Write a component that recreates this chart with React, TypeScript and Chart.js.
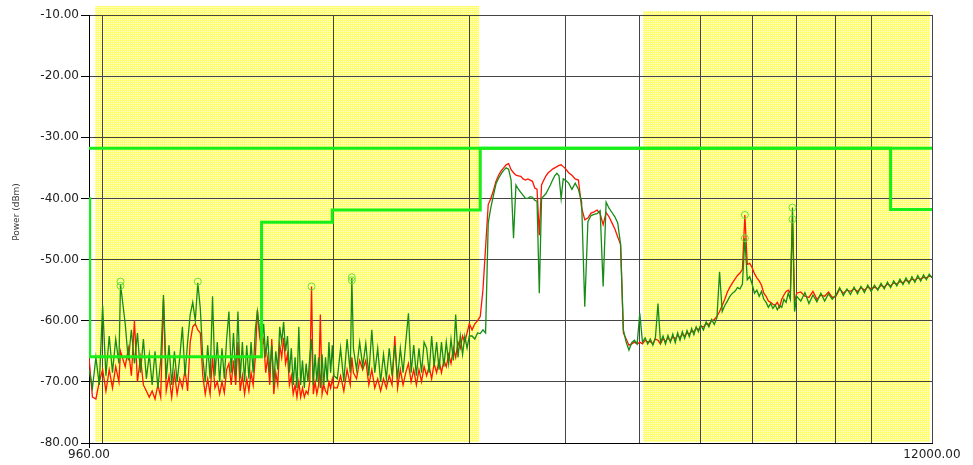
import React, { useEffect, useRef } from "react";
import { Chart, registerables } from "chart.js";

Chart.register(...registerables);

// ---------- data (frequency in MHz, power in dBm) ----------
const freqA = [
  960, 970, 980, 990, 1000, 1010, 1020, 1030, 1040, 1050,
  1055, 1070, 1080, 1090, 1100, 1110, 1120, 1130, 1140, 1150,
  1160, 1170, 1180, 1190, 1200, 1210, 1220, 1230, 1240, 1250,
  1260, 1270, 1280, 1290, 1300, 1310, 1320, 1330, 1340, 1350,
  1360, 1370, 1380, 1390, 1400, 1410, 1420, 1430, 1440, 1450,
  1460, 1470, 1480, 1490, 1500, 1510, 1520, 1530, 1540, 1550,
  1560, 1570, 1580, 1590, 1600, 1610, 1620, 1630, 1640, 1650,
  1660, 1670, 1680, 1690, 1700, 1710, 1720, 1730, 1740, 1750,
  1760, 1770, 1780, 1790, 1800, 1810, 1820, 1830, 1840, 1850,
  1860, 1870, 1880, 1890, 1900, 1910, 1920, 1930, 1940, 1950,
  1960, 1970, 1980, 1990, 2000,
];
const greenA = [
  -68, -71, -66, -70.5, -57.5, -69, -62.5, -68.5, -63, -67,
  -54, -60.5, -66.5, -61.5, -67, -62, -68.5, -63, -69.5, -65.5,
  -70.5, -65, -71, -66.5, -55.8, -69.5, -64, -70.5, -65, -70,
  -66, -61, -69, -63.5, -59, -57, -60, -53.8, -58, -66,
  -70, -64, -69.5, -56, -69, -63.5, -70, -64.5, -69.5, -63,
  -58.5, -68.5, -62, -69, -58.5, -69.5, -63.5, -70, -64, -69.5,
  -63.5, -68.5, -61.5, -58.5, -61.5, -64, -60.5, -66, -62.5, -68.5,
  -64, -70.5, -65, -68, -61, -63.5, -60.2, -65, -62.5, -68.5,
  -64.5, -70.5, -66, -71, -61, -70.5, -66.5, -71, -67, -70,
  -66, -63, -70.5, -65.5, -70, -66, -71, -65.5, -70.5, -66,
  -70, -63.5, -68.5, -64, -69,
];
const redA = [
  -66, -72.5, -72.8, -70, -68, -71.5, -68, -71, -67.5, -70,
  -65, -67.5, -64.5, -69, -60, -70, -66, -70.5, -71.5, -72.5,
  -71.5, -72.8, -70.5, -72.5, -56.5, -71.5, -69, -72.5, -68.5, -72,
  -69.5, -71, -68, -71.5, -63.5, -61, -60.5, -61.5, -62, -69,
  -72, -69.5, -72, -66, -71, -70, -72, -70, -71.8, -68,
  -67, -70.5, -66.5, -70.5, -63.5, -71.5, -69, -72, -69.5, -71.5,
  -68.5, -70.5, -66, -58.3, -62.5, -64.5, -63, -68.5, -66, -70.5,
  -63, -72, -68.5, -70.5, -64, -66, -62.8, -67, -65.5, -70.5,
  -69, -72, -70.5, -72.5, -70, -72.5, -71, -72.5, -71.5, -72,
  -70, -54.4, -72, -70, -72, -70.5, -59, -72, -70.5, -71.5,
  -72, -70, -71, -69.5, -71,
];

const freqB = [
  2020, 2040, 2060, 2080, 2100, 2110, 2120, 2140, 2160, 2180,
  2200, 2220, 2240, 2260, 2280, 2300, 2320, 2340, 2360, 2380,
  2400, 2420, 2440, 2460, 2480, 2500, 2520, 2540, 2560, 2580,
  2600, 2620, 2640, 2660, 2680, 2700, 2720, 2740, 2760, 2780,
  2800, 2820, 2840, 2860, 2880, 2900, 2920, 2940, 2960, 2980,
  3000,
];
const greenB = [
  -69.5, -64.5, -70, -63, -68.5, -53, -64.5, -68, -63.5, -67.5,
  -63.7, -69, -61.5, -68.5, -64.5, -70, -65.5, -69.5, -64.5, -69,
  -64, -69.5, -64.5, -68.5, -63.5, -58.8, -68.5, -64, -69, -64.5,
  -68.5, -63.5, -64.5, -68.5, -62.5, -67.5, -63.5, -68, -63.5, -67.5,
  -63.5, -67, -63, -66.5, -59, -66, -62.5, -65.5, -62.5, -64.5,
  -62.5,
];
const redB = [
  -71, -69, -71.5, -68, -70.5, -66, -68.5, -69.5, -66.5, -68,
  -66.5, -70.5, -68, -71, -69.5, -71.5, -69.5, -71, -69, -70.5,
  -62.5, -71, -68, -70.5, -68.5, -67, -70, -68, -70.5, -68,
  -70, -67.5, -69, -67.5, -69.5, -67, -68.5, -66.5, -68.5, -66.5,
  -67.5, -65.5, -67, -64.5, -66, -63.5, -64.5, -62.5, -63.5, -62,
  -60.5,
];

const freqC = [
  3025, 3050, 3075, 3100, 3125, 3150, 3175, 3200, 3225, 3250,
  3275, 3300, 3325, 3350, 3375, 3400, 3425, 3450, 3475, 3500,
  3525, 3550, 3575, 3600, 3625, 3650, 3675, 3700, 3725, 3750,
  3775, 3800, 3825, 3850, 3875, 3900, 3925, 3950, 3975, 4000,
];
const greenC = [
  -62.5, -63, -62, -62.1, -61.5, -62, -44, -41.5, -39.5, -37.6,
  -36.7, -36, -35.4, -35, -35.2, -37, -46.5, -37.8, -38.5, -39,
  -39.5, -40, -40, -39.7, -39.8, -40.3, -40.5, -55.5, -40, -39.6,
  -39.2, -38.5, -37.8, -37, -36.3, -35.9, -36.3, -40, -36.8, -37,
];
const redC = [
  -61.5, -60.5, -60, -59.3, -55, -48, -41, -40, -38.7, -37.2,
  -36.2, -35.5, -35, -34.5, -34.3, -35.3, -35.8, -36.2, -36.3, -36.4,
  -36.8, -37, -36.8, -37, -37.2, -38.3, -38.5, -46, -37.8, -37,
  -36.3, -35.8, -35.5, -35.2, -35, -34.8, -34.6, -34.5, -34.8, -35.1,
];

const freqD = [
  4040, 4080, 4120, 4160, 4200, 4240, 4280, 4320, 4360, 4400,
  4440, 4480, 4520, 4560, 4600, 4640, 4680, 4720, 4760, 4800,
  4840, 4880, 4920, 4960, 5000, 5040, 5080, 5120, 5160, 5200,
  5240, 5280, 5320, 5360, 5400, 5440, 5480, 5520, 5560, 5600,
  5640, 5680, 5720, 5760, 5800, 5840, 5880, 5920, 5960, 6000,
];
const greenD = [
  -37.5, -38.5, -37.5, -38.5, -40.5, -57.7, -43.8, -42.8, -42.6, -42.5,
  -42, -54.4, -40.6, -41.6, -42.3, -43, -44, -47.5, -61.5, -63.5,
  -64.8, -63.6, -63.2, -63.8, -58.8, -63.5, -62.8, -63.8, -63, -64,
  -62.7, -57.2, -63.6, -62.5, -63.8, -62.4, -63.5, -62.2, -63.6, -62,
  -63.2, -61.8, -62.9, -61.6, -62.6, -61.3, -62.3, -61, -61.8, -60.7,
];
const redD = [
  -35.8, -36.2, -36.8, -37, -41.5, -43.5, -43.2, -42.4, -42.2, -41.9,
  -42.5, -44.3, -42.3, -43, -44, -45, -46.3, -47.5, -62, -63,
  -64, -63.8, -63.5, -63.8, -63.5, -63.8, -63.2, -63.5, -63.4, -63.8,
  -63, -63.2, -63.8, -62.9, -63.4, -62.8, -63.3, -62.6, -63, -62.4,
  -62.8, -62.2, -62.5, -62, -62.2, -61.7, -61.8, -61.2, -61.5, -60.9,
];

const freqE = [
  6050, 6100, 6150, 6200, 6250, 6300, 6350, 6400, 6450, 6500,
  6550, 6600, 6650, 6700, 6750, 6800, 6850, 6900, 6950, 7000,
  7050, 7100, 7150, 7200, 7250, 7300, 7350, 7400, 7450, 7500,
  7550, 7600, 7650, 7700, 7750, 7800, 7850, 7900, 7950, 8000,
];
const greenE = [
  -61.5, -60.2, -61, -59.8, -60.6, -59.5, -52, -58.5, -57.5, -56.8,
  -56, -55.5, -55.2, -54.6, -54.8, -54, -46.5, -53.3, -52.8, -54,
  -55.5, -55, -56, -55.2, -56.5, -57, -57.8, -57.2, -58, -57.4,
  -58.2, -57.5, -57.8, -56.5, -57, -55.5, -56.5, -41.5, -58.5, -56,
];
const redE = [
  -61, -60.5, -60.6, -60, -59.8, -59.3, -58.5, -57.5, -56.5, -55.3,
  -54.5, -53.8, -53.2, -52.6, -52.2, -51.6, -42.7, -50.8, -50.6, -51.3,
  -52.3, -53, -53.5, -54.2, -55.5, -56, -56.8, -57, -57.3, -57.5,
  -57, -57.8, -56.5, -55.8, -55.2, -55, -55.5, -43.4, -57, -55.5,
];

const freqF = [
  8100, 8200, 8300, 8400, 8500, 8600, 8700, 8800, 8900, 9000,
  9100, 9200, 9300, 9400, 9500, 9600, 9700, 9800, 9900, 10000,
  10100, 10200, 10300, 10400, 10500, 10600, 10700, 10800, 10900, 11000,
  11100, 11200, 11300, 11400, 11500, 11600, 11700, 11800, 11900, 12000,
];
const greenF = [
  -56.8, -55.4, -57.2, -55.8, -56.9, -55.5, -56.8, -55.6, -56.5, -55.8,
  -54.6, -55.9, -54.8, -55.7, -54.5, -55.6, -54.4, -55.4, -54.2, -55.2,
  -54.2, -55, -53.9, -54.8, -53.7, -54.6, -53.5, -54.3, -53.2, -54.1,
  -53, -53.9, -52.8, -53.7, -52.6, -53.5, -52.5, -53.3, -52.4, -53,
];
const redF = [
  -55.3, -56, -56.2, -55.2, -56.5, -55.8, -56, -55.3, -56.2, -56,
  -54.8, -55.5, -55, -55.2, -54.8, -55.2, -54.6, -55, -54.5, -54.8,
  -54.5, -54.8, -54.2, -54.5, -54, -54.3, -53.8, -54, -53.6, -53.8,
  -53.4, -53.6, -53.2, -53.4, -53, -53.2, -52.9, -53, -52.7, -52.8,
];

// limit lines
const limitFlatFreq = [960, 12000];
const limitFlatDb = [-31.8, -31.8];
const limitStepFreq = [962, 962, 1610, 1610, 1990, 1990, 3100, 3100, 10600, 10600, 12000];
const limitStepDb = [-39.8, -65.9, -65.9, -43.9, -43.9, -41.9, -41.9, -31.8, -31.8, -41.8, -41.8];

// peak markers
const markerFreq = [1055, 1055, 1330, 1870, 2110, 2110, 6850, 6850, 7900, 7900];
const markerDb = [-53.6, -54.3, -53.6, -54.4, -52.9, -53.4, -42.7, -46.5, -41.5, -43.4];

// axis
const xGridValues = [960, 1000, 2000, 3000, 4000, 5000, 6000, 7000, 8000, 9000, 10000, 12000];
const xLabelValues = [960, 12000];
const yMin = -80;
const yMax = -10;
const yStep = 10;
const yTitle = "Power (dBm)";

// shaded (hatched yellow) frequency bands
const bandStart = [976, 5046];
const bandEnd = [3086, 11930];

const freqs = [...freqA, ...freqB, ...freqC, ...freqD, ...freqE, ...freqF];
const greenDb = [...greenA, ...greenB, ...greenC, ...greenD, ...greenE, ...greenF];
const redDb = [...redA, ...redB, ...redC, ...redD, ...redE, ...redF];

const pts = (xs: number[], ys: number[]) => xs.map((x, i) => ({ x, y: ys[i] }));

const FONT = "'DejaVu Sans', 'Liberation Sans', Arial, sans-serif";

function makePattern(ctx: CanvasRenderingContext2D) {
  const c = document.createElement("canvas");
  c.width = 2;
  c.height = 2;
  const p = c.getContext("2d")!;
  p.fillStyle = "#ffff6e";
  p.fillRect(0, 0, 2, 2);
  p.fillStyle = "#ffffe4";
  p.fillRect(1, 1, 1, 1);
  return ctx.createPattern(c, "repeat");
}

const backgroundPlugin = {
  id: "bgBands",
  beforeDraw(chart: any) {
    const { ctx, chartArea, scales } = chart;
    ctx.save();
    ctx.fillStyle = "#ffffff";
    ctx.fillRect(0, 0, chart.width, chart.height);
    const pat = makePattern(ctx);
    ctx.fillStyle = pat || "#ffff90";
    const tops = [chartArea.top - 9, chartArea.top - 4];
    for (let i = 0; i < bandStart.length; i++) {
      const x0 = Math.round(scales.x.getPixelForValue(bandStart[i]));
      const x1 = Math.round(scales.x.getPixelForValue(bandEnd[i]));
      ctx.fillRect(x0, tops[i], x1 - x0, chartArea.bottom - 1 - tops[i]);
    }
    ctx.fillStyle = "#3a3a3a";
    ctx.font = "9px " + FONT;
    ctx.textAlign = "center";
    ctx.textBaseline = "middle";
    ctx.translate(17, 212);
    ctx.rotate(-Math.PI / 2);
    ctx.fillText(yTitle, 0, 0);
    ctx.restore();
  },
};

export default function App() {
  const ref = useRef<HTMLCanvasElement | null>(null);

  useEffect(() => {
    if (!ref.current) return;
    const chart = new Chart(ref.current, {
      type: "line",
      data: {
        datasets: [
          {
            label: "Limit",
            data: pts(limitFlatFreq, limitFlatDb),
            borderColor: "#18ee18",
            borderWidth: 3,
            pointRadius: 0,
            borderJoinStyle: "miter",
            order: 0,
          },
          {
            label: "Limit step",
            data: pts(limitStepFreq, limitStepDb),
            borderColor: "#18ee18",
            borderWidth: 3,
            pointRadius: 0,
            borderJoinStyle: "miter",
            order: 0,
          },
          {
            label: "Markers",
            data: pts(markerFreq, markerDb),
            showLine: false,
            pointRadius: 3.5,
            pointBorderWidth: 1,
            pointBorderColor: "#6adf3a",
            pointBackgroundColor: "rgba(0,0,0,0)",
            order: 1,
          },
          {
            label: "Trace 2",
            data: pts(freqs, greenDb),
            borderColor: "#168c16",
            borderWidth: 1.3,
            pointRadius: 0,
            order: 2,
          },
          {
            label: "Trace 1",
            data: pts(freqs, redDb),
            borderColor: "#ff1500",
            borderWidth: 1.3,
            pointRadius: 0,
            order: 3,
          },
        ],
      },
      options: {
        animation: false,
        responsive: false,
        devicePixelRatio: 1,
        layout: { padding: { left: 0, top: 15, right: 41, bottom: 0 } },
        plugins: {
          legend: { display: false },
          tooltip: { enabled: false },
        },
        elements: { line: { tension: 0 } },
        scales: {
          x: {
            type: "logarithmic",
            min: 960,
            max: 12000,
            afterBuildTicks: (s: any) => {
              s.ticks = xGridValues.map((v) => ({ value: v }));
            },
            afterFit: (s: any) => {
              s.height = 22;
            },
            ticks: {
              autoSkip: false,
              maxRotation: 0,
              minRotation: 0,
              padding: 0,
              color: "#222",
              font: { family: FONT, size: 12 },
              callback: (v: any) => (xLabelValues.includes(Number(v)) ? Number(v).toFixed(2) : ""),
            },
            grid: {
              color: "#444444",
              lineWidth: 1,
              tickLength: 5,
              tickColor: (c: any) => (c.tick && c.tick.value === 960 ? "#000" : "rgba(0,0,0,0)"),
            },
            border: { color: "#000", width: 1 },
          },
          y: {
            type: "linear",
            min: yMin,
            max: yMax,
            afterFit: (s: any) => {
              s.width = 89;
            },
            ticks: {
              stepSize: yStep,
              padding: 2,
              color: "#222",
              font: { family: FONT, size: 12 },
              callback: (v: any) => Number(v).toFixed(2),
            },
            grid: { color: "#444444", lineWidth: 1, tickLength: 8, tickColor: "#000" },
            border: { color: "#000", width: 1 },
          },
        },
      } as any,
      plugins: [backgroundPlugin],
    });
    return () => chart.destroy();
  }, []);

  return (
    <div style={{ position: "absolute", left: 0, top: 0, width: 973, height: 465, background: "#fff" }}>
      <canvas ref={ref} width={973} height={465} style={{ display: "block" }} />
    </div>
  );
}
